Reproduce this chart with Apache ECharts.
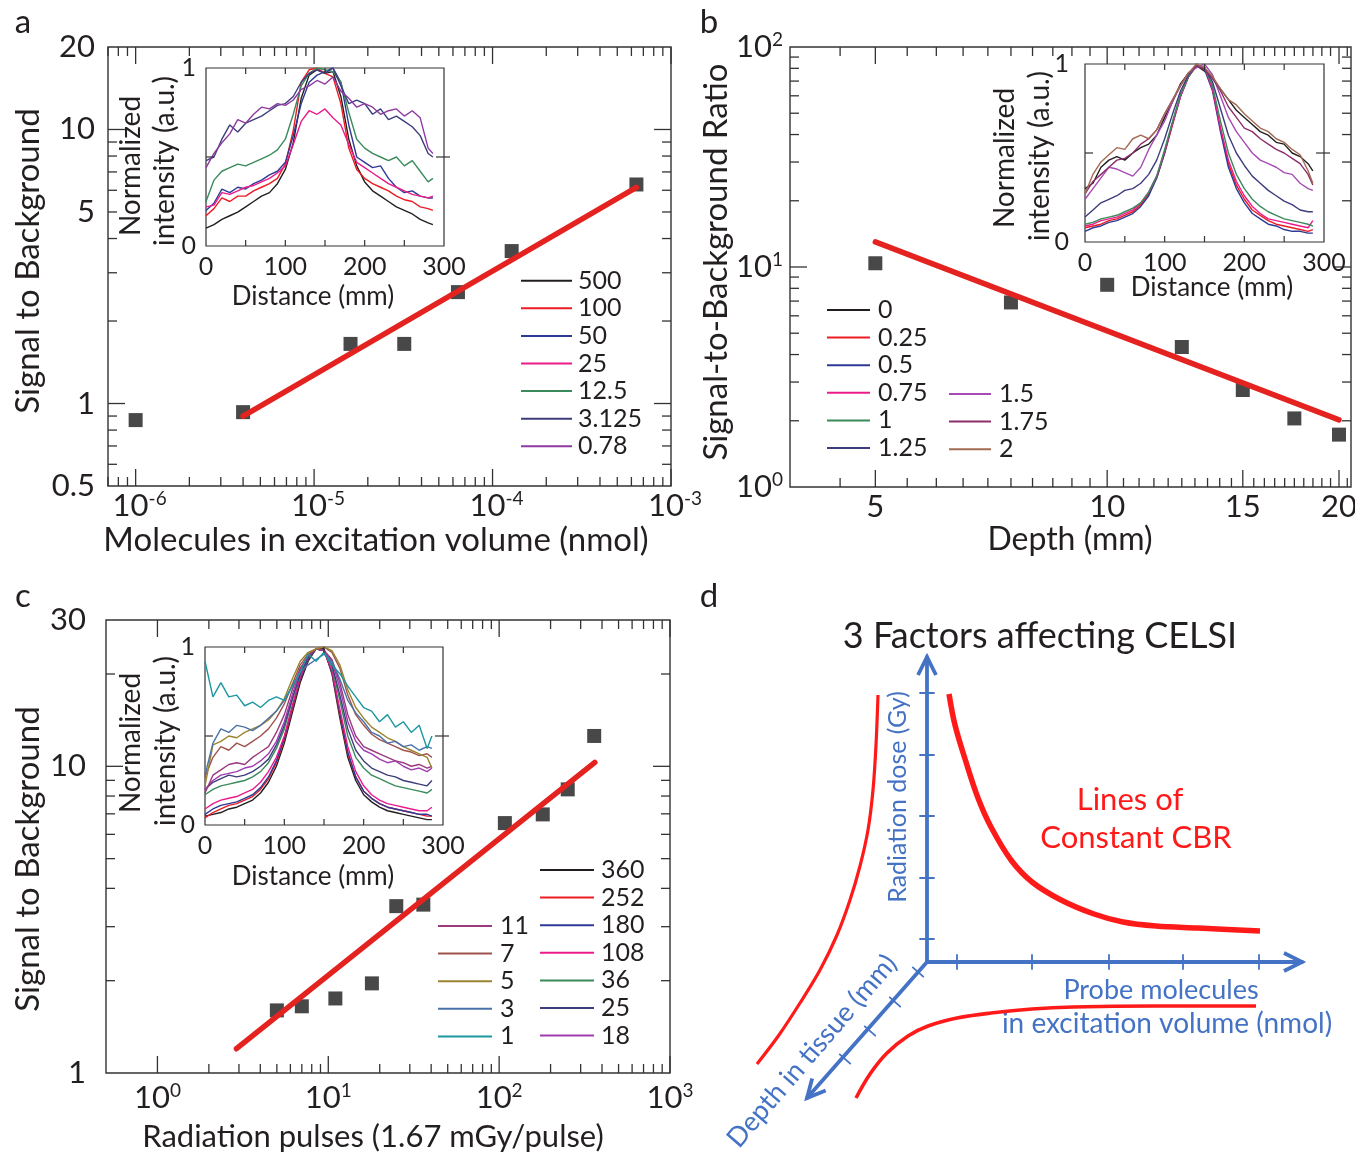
<!DOCTYPE html>
<html><head><meta charset="utf-8">
<script src="https://cdn.jsdelivr.net/npm/echarts@6.0.0/dist/echarts.min.js"></script>
<style>html,body{margin:0;padding:0;background:#fff}#c{width:1355px;height:1155px}</style>
</head><body><div id="c"></div>
<script>
const FONT = 'Lato, "Noto Sans", "DejaVu Sans", sans-serif';
const INK = '#231f20';

// ---------- Panel a ----------
const aMolecules = [1e-6, 4e-6, 1.6e-5, 3.2e-5, 6.4e-5, 1.28e-4, 6.4e-4];
const aSignal = [0.87, 0.93, 1.65, 1.65, 2.55, 3.6, 6.3];
const aFitX = [4e-6, 6.4e-4];
const aFitY = [0.90, 6.15];
const aXTickVals = [1e-6, 1e-5, 1e-4, 1e-3];
const aXTickText = ['10^-6', '10^-5', '10^-4', '10^-3'];
const aYTickVals = [0.5, 1, 5, 10, 20];
const aYTickText = ['0.5', '1', '5', '10', '20'];

// ---------- Panel b ----------
const bDepth = [5, 7.5, 10, 12.5, 15, 17.5, 20];
const bSignal = [10.4, 6.9, 8.3, 4.33, 2.76, 2.05, 1.73];
const bFitX = [5, 20];
const bFitY = [13.0, 2.02];
const bXTickVals = [5, 10, 15, 20];
const bXTickText = ['5', '10', '15', '20'];
const bYTickVals = [1, 10, 100];
const bYTickText = ['10^0', '10^1', '10^2'];

// ---------- Panel c ----------
const cPulses = [5, 7, 11, 18, 25, 36, 108, 180, 252, 360];
const cSignal = [1.60, 1.65, 1.75, 1.96, 3.50, 3.54, 6.53, 6.97, 8.41, 12.56];
const cFitX = [2.9, 363];
const cFitY = [1.2, 10.3];
const cXTickVals = [1, 10, 100, 1000];
const cXTickText = ['10^0', '10^1', '10^2', '10^3'];
const cYTickVals = [1, 10, 30];
const cYTickText = ['1', '10', '30'];

// ---------- Inset profiles (distance in mm) ----------
const dist = [0,10,20,30,40,50,60,70,80,90,100,110,120,130,140,150,160,170,180,190,200,210,220,230,240,250,260,270,280,286];
const insetXTickText = ['0', '100', '200', '300'];
const insetXTickVals = [0, 100, 200, 300];
const insetYTickText = ['0', '1'];
const insetYTickVals = [0, 1];

const aInsetNames = ['500', '100', '50', '25', '12.5', '3.125', '0.78'];
const aInsetColors = ['#231f20', '#ed1c24', '#2e3a96', '#ec1b8c', '#3a8a5c', '#3d3d7c', '#8e3aa0'];
const a500  = [0.10,0.12,0.15,0.17,0.19,0.22,0.25,0.28,0.30,0.35,0.43,0.58,0.83,0.96,0.99,0.97,0.98,0.84,0.60,0.45,0.36,0.31,0.28,0.25,0.22,0.20,0.18,0.15,0.13,0.12];
const a100  = [0.17,0.21,0.27,0.25,0.28,0.28,0.31,0.33,0.35,0.38,0.46,0.65,0.92,0.99,1.00,0.97,0.95,0.80,0.55,0.43,0.38,0.35,0.33,0.31,0.28,0.26,0.25,0.22,0.21,0.20];
const a50   = [0.20,0.24,0.32,0.30,0.33,0.32,0.35,0.37,0.40,0.42,0.47,0.62,0.80,0.92,0.96,0.98,1.00,0.92,0.68,0.50,0.47,0.44,0.45,0.38,0.33,0.30,0.31,0.28,0.27,0.27];
const a25   = [0.22,0.23,0.30,0.29,0.31,0.33,0.34,0.36,0.38,0.41,0.45,0.57,0.70,0.76,0.74,0.77,0.72,0.68,0.57,0.47,0.44,0.41,0.38,0.35,0.33,0.31,0.29,0.28,0.27,0.28];
const a12_5 = [0.25,0.37,0.42,0.44,0.46,0.45,0.47,0.49,0.51,0.54,0.60,0.74,0.90,0.97,1.00,0.99,0.98,0.92,0.75,0.60,0.55,0.52,0.50,0.48,0.50,0.45,0.48,0.42,0.36,0.38];
const a3_125= [0.48,0.50,0.60,0.68,0.64,0.69,0.71,0.73,0.76,0.79,0.80,0.84,0.92,0.97,0.99,0.97,1.00,0.90,0.80,0.82,0.80,0.74,0.77,0.71,0.73,0.70,0.67,0.62,0.52,0.50];
const a0_78 = [0.44,0.52,0.58,0.63,0.71,0.69,0.74,0.78,0.77,0.80,0.79,0.82,0.88,0.90,0.93,0.91,0.95,0.87,0.83,0.78,0.80,0.78,0.74,0.76,0.77,0.73,0.76,0.72,0.55,0.52];

const bInsetNames = ['0', '0.25', '0.5', '0.75', '1', '1.25', '1.5', '1.75', '2'];
const bInsetColors = ['#231f20', '#ed1c24', '#2e3a96', '#ec1b8c', '#3a8a5c', '#3d3d7c', '#a64ab4', '#8c2e6c', '#a36a52'];
const b0    = [0.30,0.33,0.42,0.46,0.48,0.46,0.50,0.53,0.55,0.60,0.70,0.79,0.89,0.95,0.99,0.96,0.92,0.86,0.80,0.74,0.70,0.66,0.62,0.60,0.56,0.55,0.50,0.48,0.44,0.40];
const b0_25 = [0.08,0.09,0.10,0.12,0.13,0.15,0.17,0.21,0.27,0.36,0.50,0.66,0.82,0.93,0.99,0.98,0.86,0.64,0.44,0.32,0.24,0.18,0.15,0.12,0.10,0.09,0.08,0.07,0.06,0.07];
const b0_5  = [0.06,0.08,0.09,0.11,0.12,0.14,0.16,0.20,0.26,0.36,0.50,0.67,0.82,0.93,1.00,0.97,0.85,0.62,0.42,0.30,0.22,0.16,0.13,0.10,0.09,0.07,0.06,0.06,0.05,0.05];
const b0_75 = [0.09,0.10,0.12,0.13,0.14,0.16,0.18,0.22,0.28,0.37,0.51,0.67,0.82,0.93,0.99,0.98,0.86,0.64,0.46,0.34,0.26,0.20,0.16,0.13,0.12,0.11,0.10,0.09,0.08,0.12];
const b1    = [0.10,0.11,0.13,0.14,0.15,0.17,0.19,0.22,0.28,0.37,0.52,0.68,0.83,0.93,0.99,0.98,0.88,0.68,0.50,0.38,0.30,0.24,0.20,0.17,0.15,0.13,0.12,0.11,0.10,0.09];
const b1_25 = [0.14,0.18,0.22,0.24,0.26,0.29,0.30,0.33,0.38,0.46,0.58,0.72,0.85,0.94,0.99,0.98,0.90,0.75,0.60,0.50,0.43,0.37,0.33,0.29,0.26,0.23,0.21,0.18,0.17,0.17];
const b1_5  = [0.24,0.30,0.36,0.42,0.41,0.39,0.37,0.42,0.52,0.60,0.68,0.79,0.88,0.95,0.98,1.00,0.94,0.82,0.70,0.62,0.56,0.50,0.46,0.44,0.42,0.39,0.38,0.33,0.30,0.29];
const b1_75 = [0.27,0.34,0.38,0.42,0.46,0.47,0.50,0.55,0.58,0.63,0.72,0.80,0.88,0.95,0.99,0.97,0.92,0.85,0.76,0.70,0.64,0.62,0.58,0.55,0.52,0.50,0.47,0.44,0.38,0.32];
const b2    = [0.27,0.38,0.45,0.49,0.53,0.52,0.58,0.60,0.58,0.63,0.72,0.80,0.88,0.95,1.00,0.98,0.93,0.86,0.80,0.77,0.72,0.68,0.64,0.62,0.58,0.56,0.52,0.49,0.40,0.33];

const cRightNames = ['360', '252', '180', '108', '36', '25', '18'];
const cLeftNames = ['11', '7', '5', '3', '1'];
const cRightColors = ['#231f20', '#ed1c24', '#2e3a96', '#ec1b8c', '#3a8a5c', '#3d3d7c', '#a03cb0'];
const cLeftColors = ['#9b3a7d', '#a0524d', '#9a8430', '#4a72a8', '#1b97a0'];
const c360 = [0.05,0.06,0.07,0.09,0.10,0.12,0.14,0.18,0.24,0.33,0.46,0.63,0.80,0.92,0.99,0.99,0.85,0.60,0.38,0.25,0.17,0.13,0.10,0.08,0.07,0.06,0.05,0.04,0.03,0.03];
const c252 = [0.04,0.07,0.09,0.11,0.12,0.14,0.16,0.20,0.26,0.35,0.48,0.65,0.82,0.93,0.99,0.98,0.86,0.62,0.40,0.27,0.19,0.15,0.12,0.10,0.09,0.08,0.07,0.06,0.05,0.05];
const c180 = [0.06,0.09,0.11,0.12,0.13,0.15,0.17,0.21,0.27,0.36,0.49,0.66,0.82,0.93,0.99,0.98,0.86,0.63,0.41,0.27,0.19,0.15,0.12,0.10,0.09,0.08,0.07,0.06,0.06,0.05];
const c108 = [0.09,0.12,0.14,0.15,0.16,0.18,0.20,0.24,0.30,0.38,0.50,0.67,0.83,0.94,0.99,0.98,0.87,0.65,0.44,0.30,0.22,0.17,0.14,0.12,0.11,0.10,0.09,0.08,0.08,0.10];
const c36  = [0.17,0.20,0.22,0.23,0.24,0.25,0.27,0.30,0.35,0.43,0.54,0.70,0.85,0.94,0.99,0.98,0.89,0.70,0.50,0.38,0.32,0.28,0.26,0.24,0.22,0.21,0.20,0.19,0.18,0.20];
const c25  = [0.20,0.24,0.26,0.28,0.27,0.28,0.30,0.33,0.37,0.45,0.56,0.71,0.85,0.94,0.99,0.98,0.90,0.73,0.54,0.42,0.36,0.32,0.30,0.28,0.27,0.25,0.24,0.23,0.22,0.25];
const c18  = [0.20,0.25,0.28,0.29,0.30,0.32,0.33,0.36,0.40,0.47,0.58,0.73,0.87,0.95,0.99,0.98,0.92,0.77,0.58,0.47,0.42,0.40,0.37,0.35,0.36,0.33,0.31,0.32,0.30,0.32];
const c11  = [0.18,0.28,0.31,0.34,0.35,0.34,0.38,0.41,0.44,0.52,0.62,0.76,0.88,0.95,0.99,0.98,0.93,0.80,0.62,0.50,0.44,0.42,0.40,0.38,0.36,0.35,0.33,0.34,0.32,0.33];
const c7   = [0.27,0.38,0.44,0.42,0.46,0.44,0.47,0.50,0.54,0.60,0.68,0.79,0.90,0.96,0.99,1.00,0.97,0.88,0.73,0.62,0.56,0.51,0.48,0.46,0.44,0.42,0.41,0.39,0.40,0.38];
const c5   = [0.22,0.45,0.47,0.50,0.49,0.52,0.54,0.56,0.59,0.64,0.71,0.82,0.92,0.97,0.99,1.00,0.98,0.90,0.76,0.66,0.60,0.55,0.52,0.49,0.47,0.44,0.42,0.40,0.38,0.32];
const c3   = [0.28,0.46,0.54,0.52,0.56,0.55,0.53,0.56,0.60,0.64,0.70,0.78,0.86,0.90,0.93,0.96,0.92,0.82,0.70,0.63,0.58,0.52,0.50,0.46,0.47,0.44,0.45,0.42,0.44,0.43];
const c1   = [0.92,0.72,0.80,0.72,0.73,0.67,0.69,0.66,0.70,0.72,0.70,0.78,0.86,0.96,0.92,0.97,0.90,0.85,0.78,0.72,0.66,0.64,0.58,0.62,0.55,0.58,0.52,0.56,0.43,0.50];

// ---------- Panel d (schematic, drawn in a pixel-like data space) ----------
const dOrigin = [927, 962];
const dTipUp = [927, 657];
const dTipRight = [1302, 962];
const dTipDown = [807, 1098];
const dTicksUp = [[927,693],[927,755],[927,816],[927,878],[927,939]];
const dTicksRight = [[957,962],[1032,962],[1109,962],[1183,962],[1259,962]];
const dTicksDiag = [[918,972],[895,1002],[870,1031],[845,1059]];
const dCurveLeft = [[878,695],[876,745],[873,790],[868,830],[860,866],[850,900],[837,935],[820,970],[800,1003],[779,1035],[757,1064]];
const dCurveTop = [[949,694],[955,725],[966,762],[978,798],[991,827],[1011,860],[1032,882],[1061,900],[1094,914],[1123,922],[1156,926],[1198,928],[1260,931]];
const dCurveBottom = [[856,1098],[870,1074],[887,1053],[908,1036],[928,1026],[957,1018],[991,1013],[1032,1009],[1073,1007],[1156,1006],[1256,1006]];

// ---------- helpers ----------
function richText(t) {
  const p = t.split('^');
  return p.length > 1 ? '{b|' + p[0] + '}{s|' + p[1] + '}' : '{b|' + t + '}';
}
function labelEl(x, y, t, align, va, size) {
  return {
    type: 'text', x: x, y: y,
    style: {
      text: richText(t), align: align, verticalAlign: va,
      rich: {
        b: {fontSize: size, fontFamily: FONT, fill: INK, lineHeight: Math.round(size * 1.1)},
        s: {fontSize: Math.round(size * 0.6), fontFamily: FONT, fill: INK, lineHeight: Math.round(size * 0.6), verticalAlign: 'top'}
      }
    }
  };
}
function decadeMinors(lo, hi, e0, e1) {
  const out = [];
  for (let e = e0; e <= e1; e++) for (let m = 2; m <= 9; m++) {
    const v = m * Math.pow(10, e);
    if (v >= lo * 0.999 && v <= hi * 1.001) out.push(v);
  }
  return out;
}
function frame(gi, o) {
  return {
    type: 'custom', xAxisIndex: gi, yAxisIndex: gi, silent: true, animation: false, clip: false, z: 6,
    data: [[o.xr[0], o.yr[0]]],
    renderItem: function (params, api) {
      const ch = [];
      const p0 = api.coord([o.xr[0], o.yr[0]]), p1 = api.coord([o.xr[1], o.yr[1]]);
      const L = p0[0], B = p0[1], R = p1[0], T = p1[1];
      const st = {stroke: '#333', lineWidth: o.tw};
      const seg = (x1, y1, x2, y2) => ch.push({type: 'line', shape: {x1: x1, y1: y1, x2: x2, y2: y2}, style: st});
      o.xTicks.forEach(t => {
        const x = api.coord([t[0], o.yr[0]])[0];
        seg(x, B, x, B - t[1]); seg(x, T, x, T + t[1]);
      });
      o.yTicks.forEach(t => {
        const y = api.coord([o.xr[0], t[0]])[1];
        seg(L, y, L + t[1], y); seg(R - t[1], y, R + (t[2] || 0), y);
      });
      o.xLabels.forEach(t => {
        const x = api.coord([t[0], o.yr[0]])[0];
        ch.push(labelEl(x + (o.xdx || 0), B + o.xgap, t[1], 'center', 'top', o.fs));
      });
      o.yLabels.forEach(t => {
        const y = api.coord([o.xr[0], t[0]])[1];
        ch.push(labelEl(L - o.ygap, y, t[1], 'right', 'middle', o.fs));
      });
      return {type: 'group', children: ch};
    }
  };
}
const zip = (a, b) => a.map((v, i) => [v, b[i]]);
const MAJ = 17, MIN = 9;

function mainSeries(gi, xs, ys, fx, fy) {
  return [
    {type: 'scatter', xAxisIndex: gi, yAxisIndex: gi, data: zip(xs, ys), symbol: 'rect', symbolSize: 14,
     itemStyle: {color: '#1a1a1a'}, z: 4, silent: true},
    {type: 'line', xAxisIndex: gi, yAxisIndex: gi, data: zip(fx, fy), showSymbol: false, symbol: 'none',
     lineStyle: {color: '#e42320', width: 5.5, cap: 'round'}, z: 5, silent: true}
  ];
}
function insetSeries(gi, prefix, names, curves, colors) {
  return names.map((n, i) => ({
    type: 'line', name: prefix + '|' + n, xAxisIndex: gi, yAxisIndex: gi,
    data: zip(dist, curves[i]), showSymbol: false, symbol: 'none', silent: true,
    lineStyle: {width: 1.4, color: colors[i]}, itemStyle: {color: colors[i]}, z: 3
  }));
}
function insetFrame(gi, ygap) {
  return frame(gi, {
    xr: [0, 300], yr: [0, 1], tw: 1.2, fs: 25, xgap: 7, ygap: ygap,
    xTicks: [[50, 6], [100, 6], [150, 6], [200, 6], [250, 6]],
    yTicks: [[0.5, 8, 6]],
    xLabels: zip(insetXTickVals, insetXTickText), yLabels: zip(insetYTickVals, insetYTickText)
  });
}
function legendCol(left, top, prefix, names, w, pad) {
  return {
    left: left, top: top, orient: 'vertical', padding: 0, itemGap: 0, itemWidth: w, itemHeight: 2,
    icon: 'rect', selectedMode: false, data: names.map(n => prefix + '|' + n),
    formatter: n => n.slice(2),
    textStyle: {fontFamily: FONT, fontSize: 25, color: INK, lineHeight: 27.6, padding: [0, 0, 0, pad]}
  };
}
function txt(x, y, t, size, color, rot) {
  return {type: 'text', x: x, y: y, rotation: rot || 0, silent: true,
    style: {text: t, fontSize: size, fontFamily: FONT, fill: color || INK,
            align: 'center', verticalAlign: 'middle', textAlign: 'center', textVerticalAlign: 'middle'}};
}

// ---------- axes ----------
const hid = {axisLine: {show: false}, axisTick: {show: false}, axisLabel: {show: false}, splitLine: {show: false}};
const grids = [
  {left: 108, top: 47, width: 563, height: 439},
  {left: 206, top: 68, width: 238, height: 178},
  {left: 790, top: 47, width: 561, height: 440},
  {left: 1085, top: 64, width: 239, height: 178},
  {left: 106, top: 620, width: 564, height: 453},
  {left: 205, top: 647, width: 238, height: 178},
  {left: 0, top: 0, width: 1355, height: 1155}
].map((g, i) => Object.assign({show: i < 6, borderColor: '#333', borderWidth: i % 2 === 0 ? 1.4 : 1.2, backgroundColor: 'transparent'}, g));

const xAxes = [
  Object.assign({type: 'log', gridIndex: 0, min: 7e-7, max: 1e-3}, hid),
  Object.assign({type: 'value', gridIndex: 1, min: 0, max: 300}, hid),
  Object.assign({type: 'log', gridIndex: 2, min: 3.874, max: 20.73}, hid),
  Object.assign({type: 'value', gridIndex: 3, min: 0, max: 300}, hid),
  Object.assign({type: 'log', gridIndex: 4, min: 0.5, max: 1000}, hid),
  Object.assign({type: 'value', gridIndex: 5, min: 0, max: 300}, hid),
  Object.assign({type: 'value', gridIndex: 6, min: 0, max: 1355}, hid)
];
const yAxes = [
  Object.assign({type: 'log', gridIndex: 0, min: 0.5, max: 20}, hid),
  Object.assign({type: 'value', gridIndex: 1, min: 0, max: 1}, hid),
  Object.assign({type: 'log', gridIndex: 2, min: 1, max: 100}, hid),
  Object.assign({type: 'value', gridIndex: 3, min: 0, max: 1}, hid),
  Object.assign({type: 'log', gridIndex: 4, min: 1, max: 30}, hid),
  Object.assign({type: 'value', gridIndex: 5, min: 0, max: 1}, hid),
  Object.assign({type: 'value', gridIndex: 6, min: 0, max: 1155, inverse: true}, hid)
];

// tick specs
const aXT = aXTickVals.map(v => [v, MAJ]).concat(decadeMinors(7e-7, 1e-3, -7, -4).map(v => [v, MIN]));
const aYT = [[1, MAJ], [10, MAJ]].concat(decadeMinors(0.5, 20, -1, 0).filter(v => v > 0.55 && v < 19).map(v => [v, MIN]));
const bXT = [];
for (let v = 4.5; v <= 20.5; v += 0.5) bXT.push([v, bXTickVals.indexOf(v) >= 0 ? MAJ : MIN]);
const bYT = [[10, MAJ]].concat(decadeMinors(1, 100, 0, 1).map(v => [v, MIN]));
const cXT = cXTickVals.map(v => [v, MAJ]).concat(decadeMinors(1, 1000, 0, 2).map(v => [v, MIN]));
const cYT = [[10, MAJ]].concat(decadeMinors(1, 30, 0, 1).filter(v => v < 29).map(v => [v, MIN]));

// ---------- series ----------
const series = [].concat(
  mainSeries(0, aMolecules, aSignal, aFitX, aFitY),
  mainSeries(2, bDepth, bSignal, bFitX, bFitY),
  mainSeries(4, cPulses, cSignal, cFitX, cFitY),
  insetSeries(1, 'a', aInsetNames, [a500, a100, a50, a25, a12_5, a3_125, a0_78], aInsetColors),
  insetSeries(3, 'b', bInsetNames, [b0, b0_25, b0_5, b0_75, b1, b1_25, b1_5, b1_75, b2], bInsetColors),
  insetSeries(5, 'c', cRightNames, [c360, c252, c180, c108, c36, c25, c18], cRightColors),
  insetSeries(5, 'c', cLeftNames, [c11, c7, c5, c3, c1], cLeftColors),
  [
    frame(0, {xr: [7e-7, 1e-3], yr: [0.5, 20], tw: 1.3, fs: 31, xgap: 3, xdx: 4, ygap: 13,
      xTicks: aXT, yTicks: aYT, xLabels: zip(aXTickVals, aXTickText), yLabels: zip(aYTickVals, aYTickText)}),
    frame(2, {xr: [3.874, 20.73], yr: [1, 100], tw: 1.3, fs: 31, xgap: 3, ygap: 7,
      xTicks: bXT, yTicks: bYT, xLabels: zip(bXTickVals, bXTickText), yLabels: zip(bYTickVals, bYTickText)}),
    frame(4, {xr: [0.5, 1000], yr: [1, 30], tw: 1.3, fs: 31, xgap: 8, ygap: 20,
      xTicks: cXT, yTicks: cYT, xLabels: zip(cXTickVals, cXTickText), yLabels: zip(cYTickVals, cYTickText)}),
    insetFrame(1, 10), insetFrame(3, 16), insetFrame(5, 10)
  ],
  // panel d
  [dCurveLeft, dCurveTop, dCurveBottom].map((c, i) => ({
    type: 'line', xAxisIndex: 6, yAxisIndex: 6, data: c, smooth: 0.35, showSymbol: false, symbol: 'none', silent: true,
    lineStyle: {color: '#ff1a1a', width: [3.2, 5.5, 3.6][i]}, z: 4
  })),
  [{
    type: 'custom', xAxisIndex: 6, yAxisIndex: 6, silent: true, clip: false, z: 5,
    data: [dOrigin],
    renderItem: function (params, api) {
      const ch = [];
      const blue = '#4472c4';
      const O = api.coord(dOrigin);
      const line = (a, b, w) => ch.push({type: 'line', shape: {x1: a[0], y1: a[1], x2: b[0], y2: b[1]}, style: {stroke: blue, lineWidth: w, lineCap: 'round'}});
      [dTipUp, dTipRight, dTipDown].forEach(tp => {
        const P = api.coord(tp);
        line(O, P, 3.8);
        const dx = P[0] - O[0], dy = P[1] - O[1], len = Math.hypot(dx, dy), ux = dx / len, uy = dy / len;
        const h = 18, s = 9;
        ch.push({type: 'polyline', shape: {points: [[P[0] - ux * h - uy * s, P[1] - uy * h + ux * s], [P[0], P[1]], [P[0] - ux * h + uy * s, P[1] - uy * h - ux * s]]},
          style: {stroke: blue, lineWidth: 3.8, fill: null, lineJoin: 'miter'}});
      });
      const tick = (pt, ux, uy) => { const P = api.coord(pt); line([P[0] - ux * 7, P[1] - uy * 7], [P[0] + ux * 7, P[1] + uy * 7], 1.8); };
      dTicksUp.forEach(p => tick(p, 1, 0));
      dTicksRight.forEach(p => tick(p, 0, 1));
      const D = api.coord(dTipDown), dl = Math.hypot(D[0] - O[0], D[1] - O[1]);
      dTicksDiag.forEach(p => tick(p, (D[1] - O[1]) / dl, -(D[0] - O[0]) / dl));
      return {type: 'group', children: ch};
    }
  }]
);

const option = {
  animation: false,
  backgroundColor: '#ffffff',
  grid: grids, xAxis: xAxes, yAxis: yAxes,
  legend: [
    legendCol(521, 266.9, 'a', aInsetNames, 51, 1),
    legendCol(827, 296.2, 'b', bInsetNames.slice(0, 6), 43, 3),
    legendCol(949, 380.2, 'b', bInsetNames.slice(6), 42, 3),
    legendCol(540, 856.2, 'c', cRightNames, 54, 2),
    legendCol(438, 912.2, 'c', cLeftNames, 54, 3)
  ],
  graphic: [
    txt(23, 22, 'a', 33), txt(709, 22, 'b', 33), txt(23, 596, 'c', 33), txt(709, 596, 'd', 33),
    txt(376, 540, 'Molecules in excitation volume (nmol)', 33),
    txt(28, 261, 'Signal to Background', 33, INK, Math.PI / 2),
    txt(1070, 540, 'Depth (mm)', 32),
    txt(716, 262, 'Signal-to-Background Ratio', 33, INK, Math.PI / 2),
    txt(373, 1137, 'Radiation pulses (1.67 mGy/pulse)', 31),
    txt(28, 859, 'Signal to Background', 33, INK, Math.PI / 2),
    // insets
    txt(313, 297, 'Distance (mm)', 26), txt(131, 166, 'Normalized', 28, INK, Math.PI / 2), txt(165, 161, 'intensity (a.u.)', 28, INK, Math.PI / 2),
    txt(1212, 288, 'Distance (mm)', 26), txt(1005, 158, 'Normalized', 28, INK, Math.PI / 2), txt(1040, 156, 'intensity (a.u.)', 28, INK, Math.PI / 2),
    txt(313, 877, 'Distance (mm)', 26), txt(131, 743, 'Normalized', 28, INK, Math.PI / 2), txt(166, 741, 'intensity (a.u.)', 28, INK, Math.PI / 2),
    // panel d
    txt(1040, 636, '3 Factors affecting CELSI', 36),
    txt(898, 797, 'Radiation dose (Gy)', 25, '#4472c4', Math.PI / 2),
    txt(1161, 990, 'Probe molecules', 27, '#4472c4'),
    txt(1167, 1024, 'in excitation volume (nmol)', 28, '#4472c4'),
    txt(812, 1051, 'Depth in tissue (mm)', 27, '#4472c4', 0.86),
    txt(1130, 800, 'Lines of', 31, '#ff1a1a'),
    txt(1136, 838, 'Constant CBR', 31, '#ff1a1a')
  ],
  series: series
};
const chart = echarts.init(document.getElementById('c'), null, {renderer: 'canvas', width: 1355, height: 1155});
chart.setOption(option);
</script></body></html>
